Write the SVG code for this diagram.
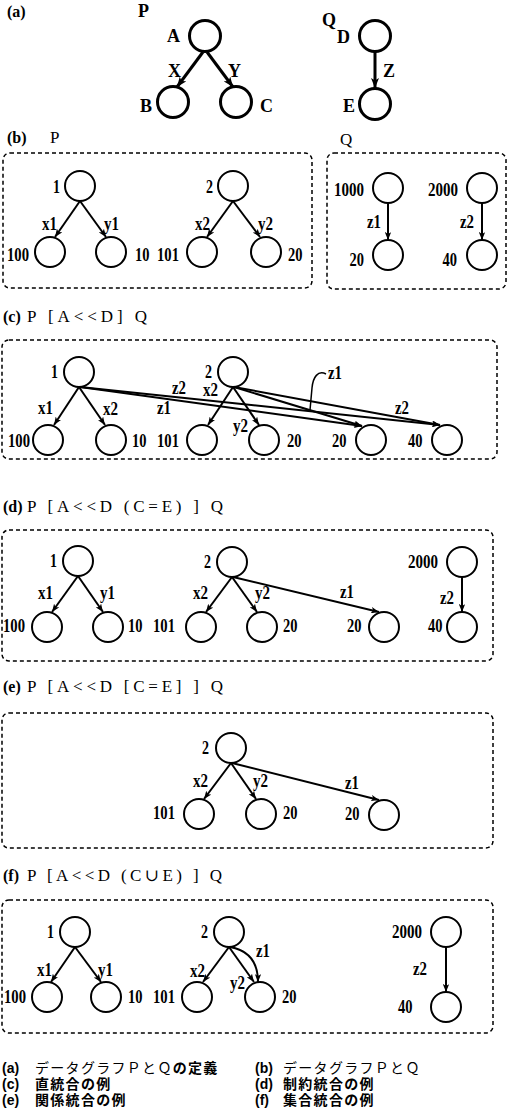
<svg xmlns="http://www.w3.org/2000/svg" width="508" height="1114" viewBox="0 0 508 1114">
<style>
.n{fill:none;stroke:#000;stroke-width:2}
.nb{fill:none;stroke:#000;stroke-width:3}
.e{fill:none;stroke:#000;stroke-width:2;marker-end:url(#ah)}
.eb{fill:none;stroke:#000;stroke-width:3;marker-end:url(#ahb)}
.co{fill:none;stroke:#000;stroke-width:1.5}
.box{fill:none;stroke:#000;stroke-width:1.5;stroke-dasharray:4 3}
.t{font-family:"Liberation Serif","DejaVu Serif",serif;font-size:18px;font-weight:bold;fill:#000}
.r{text-anchor:end}
.big{font-family:"Liberation Serif","DejaVu Serif",serif;font-size:18px;font-weight:bold;fill:#000}
.hd{font-family:"Liberation Serif","DejaVu Serif",serif;font-size:16px;font-weight:bold;fill:#000}
.ti{font-family:"Liberation Serif","DejaVu Serif",serif;font-size:17px;fill:#000}
.cap{font-family:"Liberation Sans","Noto Sans CJK JP",sans-serif;font-size:14px;fill:#000;letter-spacing:1.3px}
.cb{font-weight:bold}
.cl{font-family:"Liberation Sans",sans-serif;font-size:14px;font-weight:bold;letter-spacing:0}
</style>
<defs>
<marker id="ah" viewBox="0 0 10 8" refX="10" refY="4" markerWidth="8" markerHeight="6.4" markerUnits="userSpaceOnUse" orient="auto"><path d="M0,0 L10,4 L0,8 L2.5,4 z" fill="#000"/></marker>
<marker id="ahb" viewBox="0 0 10 8" refX="10" refY="4" markerWidth="10" markerHeight="8" markerUnits="userSpaceOnUse" orient="auto"><path d="M0,0 L10,4 L0,8 L2.5,4 z" fill="#000"/></marker>
</defs>

<!-- titles -->
<g id="titles">
<text class="hd" x="7" y="17">(a)</text>
<text class="big" x="138" y="17">P</text>
<text class="big" x="322" y="26">Q</text>
<text class="hd" x="7" y="143">(b)</text>
<text class="ti" x="50" y="143">P</text>
<text class="ti" x="340" y="145">Q</text>
<text class="hd" x="3" y="322">(c)</text>
<text class="ti" x="27" y="322" textLength="120" lengthAdjust="spacing">P [A&lt;&lt;D] Q</text>
<text class="hd" x="3" y="512">(d)</text>
<text class="ti" x="27" y="512" textLength="196" lengthAdjust="spacing">P [A&lt;&lt;D (C=E) ] Q</text>
<text class="hd" x="3" y="692">(e)</text>
<text class="ti" x="27" y="692" textLength="196" lengthAdjust="spacing">P [A&lt;&lt;D [C=E] ] Q</text>
<text class="hd" x="3" y="881">(f)</text>
<text class="ti" x="27" y="881" textLength="195" lengthAdjust="spacing">P [A&lt;&lt;D (C∪E) ] Q</text>
</g>

<!-- boxes -->
<g id="boxes">
<rect class="box" x="3" y="153" width="309" height="135" rx="7"/>
<rect class="box" x="327" y="153" width="179" height="136" rx="7"/>
<rect class="box" x="2" y="340" width="495" height="119" rx="7"/>
<rect class="box" x="2" y="530" width="491" height="131" rx="7"/>
<rect class="box" x="2" y="713" width="491" height="135" rx="7"/>
<rect class="box" x="2" y="900" width="491" height="133" rx="7"/>
</g>

<!-- (a) nodes -->
<g id="a-A"><circle class="nb" cx="205" cy="36" r="15.5"/><text class="big" x="167" y="42">A</text></g>
<g id="a-B"><circle class="nb" cx="173" cy="102" r="15.5"/><text class="big" x="140" y="112">B</text></g>
<g id="a-C"><circle class="nb" cx="236" cy="102" r="15.5"/><text class="big" x="260" y="112">C</text></g>
<g id="a-D"><circle class="nb" cx="375" cy="36" r="15.5"/><text class="big" x="337" y="43">D</text></g>
<g id="a-E"><circle class="nb" cx="375" cy="104" r="15.5"/><text class="big" x="343" y="112">E</text></g>

<!-- (b) nodes -->
<g id="b-1"><circle class="n" cx="80" cy="186" r="15"/><text class="t r" x="60" y="193" textLength="7" lengthAdjust="spacingAndGlyphs">1</text></g>
<g id="b-100"><circle class="n" cx="50" cy="252" r="15"/><text class="t r" x="29" y="261" textLength="22" lengthAdjust="spacingAndGlyphs">100</text></g>
<g id="b-10"><circle class="n" cx="111" cy="252" r="15"/><text class="t" x="135" y="261" textLength="14.5" lengthAdjust="spacingAndGlyphs">10</text></g>
<g id="b-2"><circle class="n" cx="233" cy="186" r="15"/><text class="t r" x="213" y="193" textLength="7" lengthAdjust="spacingAndGlyphs">2</text></g>
<g id="b-101"><circle class="n" cx="202" cy="252" r="15"/><text class="t" x="157" y="261" textLength="22" lengthAdjust="spacingAndGlyphs">101</text></g>
<g id="b-20"><circle class="n" cx="266" cy="252" r="15"/><text class="t" x="288" y="261" textLength="14.5" lengthAdjust="spacingAndGlyphs">20</text></g>
<g id="b-1000"><circle class="n" cx="388" cy="188" r="15"/><text class="t r" x="364" y="196" textLength="30" lengthAdjust="spacingAndGlyphs">1000</text></g>
<g id="b-q20"><circle class="n" cx="388" cy="255" r="15"/><text class="t r" x="364" y="266" textLength="14.5" lengthAdjust="spacingAndGlyphs">20</text></g>
<g id="b-2000"><circle class="n" cx="482" cy="188" r="15"/><text class="t r" x="458" y="196" textLength="30" lengthAdjust="spacingAndGlyphs">2000</text></g>
<g id="b-40"><circle class="n" cx="482" cy="255" r="15"/><text class="t r" x="457" y="266" textLength="14.5" lengthAdjust="spacingAndGlyphs">40</text></g>

<!-- (c) nodes -->
<g id="c-1"><circle class="n" cx="79" cy="372" r="15"/><text class="t r" x="58" y="378" textLength="7" lengthAdjust="spacingAndGlyphs">1</text></g>
<g id="c-100"><circle class="n" cx="48" cy="440" r="15"/><text class="t r" x="30" y="447" textLength="22" lengthAdjust="spacingAndGlyphs">100</text></g>
<g id="c-10"><circle class="n" cx="111" cy="440" r="15"/><text class="t" x="132" y="447" textLength="14.5" lengthAdjust="spacingAndGlyphs">10</text></g>
<g id="c-2"><circle class="n" cx="233" cy="372" r="15"/><text class="t r" x="212" y="378" textLength="7" lengthAdjust="spacingAndGlyphs">2</text></g>
<g id="c-101"><circle class="n" cx="202" cy="440" r="15"/><text class="t" x="157" y="447" textLength="22" lengthAdjust="spacingAndGlyphs">101</text></g>
<g id="c-20"><circle class="n" cx="264" cy="440" r="15"/><text class="t" x="287" y="447" textLength="14.5" lengthAdjust="spacingAndGlyphs">20</text></g>
<g id="c-q20"><circle class="n" cx="371" cy="440" r="15"/><text class="t" x="332" y="447" textLength="14.5" lengthAdjust="spacingAndGlyphs">20</text></g>
<g id="c-40"><circle class="n" cx="447" cy="440" r="15"/><text class="t" x="408" y="447" textLength="14.5" lengthAdjust="spacingAndGlyphs">40</text></g>

<!-- (d) nodes -->
<g id="d-1"><circle class="n" cx="78" cy="561" r="15"/><text class="t r" x="57" y="567" textLength="7" lengthAdjust="spacingAndGlyphs">1</text></g>
<g id="d-100"><circle class="n" cx="47" cy="627" r="15"/><text class="t r" x="25" y="632" textLength="22" lengthAdjust="spacingAndGlyphs">100</text></g>
<g id="d-10"><circle class="n" cx="108" cy="627" r="15"/><text class="t" x="128" y="632" textLength="14.5" lengthAdjust="spacingAndGlyphs">10</text></g>
<g id="d-2"><circle class="n" cx="232" cy="562" r="15"/><text class="t r" x="211" y="568" textLength="7" lengthAdjust="spacingAndGlyphs">2</text></g>
<g id="d-101"><circle class="n" cx="201" cy="627" r="15"/><text class="t" x="153" y="632" textLength="22" lengthAdjust="spacingAndGlyphs">101</text></g>
<g id="d-20"><circle class="n" cx="262" cy="627" r="15"/><text class="t" x="283" y="632" textLength="14.5" lengthAdjust="spacingAndGlyphs">20</text></g>
<g id="d-q20"><circle class="n" cx="384" cy="627" r="15"/><text class="t" x="347" y="632" textLength="14.5" lengthAdjust="spacingAndGlyphs">20</text></g>
<g id="d-2000"><circle class="n" cx="462" cy="562" r="15"/><text class="t" x="408" y="568" textLength="30" lengthAdjust="spacingAndGlyphs">2000</text></g>
<g id="d-40"><circle class="n" cx="462" cy="627" r="15"/><text class="t" x="428" y="632" textLength="14.5" lengthAdjust="spacingAndGlyphs">40</text></g>

<!-- (e) nodes -->
<g id="e-2"><circle class="n" cx="231" cy="748" r="15"/><text class="t r" x="209" y="754" textLength="7" lengthAdjust="spacingAndGlyphs">2</text></g>
<g id="e-101"><circle class="n" cx="199" cy="814" r="15"/><text class="t" x="153" y="819" textLength="22" lengthAdjust="spacingAndGlyphs">101</text></g>
<g id="e-20"><circle class="n" cx="261" cy="814" r="15"/><text class="t" x="283" y="819" textLength="14.5" lengthAdjust="spacingAndGlyphs">20</text></g>
<g id="e-q20"><circle class="n" cx="384" cy="815" r="15"/><text class="t" x="345" y="820" textLength="14.5" lengthAdjust="spacingAndGlyphs">20</text></g>

<!-- (f) nodes -->
<g id="f-1"><circle class="n" cx="75" cy="932" r="15"/><text class="t r" x="54" y="938" textLength="7" lengthAdjust="spacingAndGlyphs">1</text></g>
<g id="f-100"><circle class="n" cx="47" cy="997" r="15"/><text class="t r" x="26" y="1003" textLength="22" lengthAdjust="spacingAndGlyphs">100</text></g>
<g id="f-10"><circle class="n" cx="106" cy="997" r="15"/><text class="t" x="128" y="1003" textLength="14.5" lengthAdjust="spacingAndGlyphs">10</text></g>
<g id="f-2"><circle class="n" cx="229" cy="932" r="15"/><text class="t r" x="208" y="938" textLength="7" lengthAdjust="spacingAndGlyphs">2</text></g>
<g id="f-101"><circle class="n" cx="197" cy="997" r="15"/><text class="t" x="153" y="1003" textLength="22" lengthAdjust="spacingAndGlyphs">101</text></g>
<g id="f-20"><circle class="n" cx="260" cy="997" r="15"/><text class="t" x="282" y="1003" textLength="14.5" lengthAdjust="spacingAndGlyphs">20</text></g>
<g id="f-2000"><circle class="n" cx="446" cy="932" r="15"/><text class="t r" x="422" y="938" textLength="30" lengthAdjust="spacingAndGlyphs">2000</text></g>
<g id="f-40"><circle class="n" cx="446" cy="1007" r="15"/><text class="t" x="398" y="1013" textLength="14.5" lengthAdjust="spacingAndGlyphs">40</text></g>

<!-- connectors -->
<g id="connectors">
<path class="eb" d="M203,52 L177,87"/>
<path class="eb" d="M207,52 L233,87"/>
<path class="eb" d="M375,52 L375,88"/>
<text class="big" x="168" y="77">X</text>
<text class="big" x="228" y="77">Y</text>
<text class="big" x="383" y="77">Z</text>

<path class="e" d="M80,201 L55,237"/>
<path class="e" d="M80,201 L106,237"/>
<path class="e" d="M233,201 L207,237"/>
<path class="e" d="M233,201 L260,237"/>
<path class="e" d="M388,203 L388,240"/>
<path class="e" d="M482,203 L482,240"/>
<text class="t" x="42" y="230" textLength="15" lengthAdjust="spacingAndGlyphs">x1</text>
<text class="t" x="104" y="230" textLength="15" lengthAdjust="spacingAndGlyphs">y1</text>
<text class="t" x="195" y="230" textLength="15" lengthAdjust="spacingAndGlyphs">x2</text>
<text class="t" x="258" y="230" textLength="15" lengthAdjust="spacingAndGlyphs">y2</text>
<text class="t" x="367" y="228" textLength="14" lengthAdjust="spacingAndGlyphs">z1</text>
<text class="t" x="460" y="228" textLength="14" lengthAdjust="spacingAndGlyphs">z2</text>

<path class="e" d="M79,387 L54,425"/>
<path class="e" d="M79,387 L105,425"/>
<path class="e" d="M233,387 L208,425"/>
<path class="e" d="M233,387 L259,425"/>
<path class="e" d="M80,387 L362,426"/>
<path class="e" d="M80,387 L440,425"/>
<path class="e" d="M234,387 L362,426"/>
<path class="e" d="M234,387 L440,425"/>
<path class="co" d="M326,374 C318,370 313,377 312,388 L310,410"/>
<text class="t" x="38" y="414" textLength="15" lengthAdjust="spacingAndGlyphs">x1</text>
<text class="t" x="103" y="415" textLength="15" lengthAdjust="spacingAndGlyphs">x2</text>
<text class="t" x="172" y="394" textLength="14" lengthAdjust="spacingAndGlyphs">z2</text>
<text class="t" x="157" y="414" textLength="14" lengthAdjust="spacingAndGlyphs">z1</text>
<text class="t" x="203" y="396" textLength="15" lengthAdjust="spacingAndGlyphs">x2</text>
<text class="t" x="233" y="432" textLength="15" lengthAdjust="spacingAndGlyphs">y2</text>
<text class="t" x="328" y="379" textLength="14" lengthAdjust="spacingAndGlyphs">z1</text>
<text class="t" x="395" y="414" textLength="14" lengthAdjust="spacingAndGlyphs">z2</text>

<path class="e" d="M78,576 L52,612"/>
<path class="e" d="M78,576 L103,612"/>
<path class="e" d="M232,577 L206,612"/>
<path class="e" d="M232,577 L257,612"/>
<path class="e" d="M233,577 L379,612"/>
<path class="e" d="M462,577 L462,612"/>
<text class="t" x="38" y="599" textLength="15" lengthAdjust="spacingAndGlyphs">x1</text>
<text class="t" x="100" y="599" textLength="15" lengthAdjust="spacingAndGlyphs">y1</text>
<text class="t" x="193" y="599" textLength="15" lengthAdjust="spacingAndGlyphs">x2</text>
<text class="t" x="255" y="599" textLength="15" lengthAdjust="spacingAndGlyphs">y2</text>
<text class="t" x="340" y="598" textLength="14" lengthAdjust="spacingAndGlyphs">z1</text>
<text class="t" x="440" y="604" textLength="14" lengthAdjust="spacingAndGlyphs">z2</text>

<path class="e" d="M231,763 L204,799"/>
<path class="e" d="M231,763 L256,799"/>
<path class="e" d="M232,763 L379,800"/>
<text class="t" x="193" y="787" textLength="15" lengthAdjust="spacingAndGlyphs">x2</text>
<text class="t" x="253" y="787" textLength="15" lengthAdjust="spacingAndGlyphs">y2</text>
<text class="t" x="345" y="789" textLength="14" lengthAdjust="spacingAndGlyphs">z1</text>

<path class="e" d="M75,947 L51,982"/>
<path class="e" d="M75,947 L101,982"/>
<path class="e" d="M229,947 L203,982"/>
<path class="e" d="M229,947 L254,982"/>
<path class="e" d="M230,947 Q258,952 258,982"/>
<path class="e" d="M446,947 L446,992"/>
<text class="t" x="37" y="976" textLength="15" lengthAdjust="spacingAndGlyphs">x1</text>
<text class="t" x="98" y="976" textLength="15" lengthAdjust="spacingAndGlyphs">y1</text>
<text class="t" x="190" y="977" textLength="15" lengthAdjust="spacingAndGlyphs">x2</text>
<text class="t" x="230" y="989" textLength="15" lengthAdjust="spacingAndGlyphs">y2</text>
<text class="t" x="256" y="957" textLength="14" lengthAdjust="spacingAndGlyphs">z1</text>
<text class="t" x="413" y="975" textLength="14" lengthAdjust="spacingAndGlyphs">z2</text>
</g>

<!-- caption -->
<g id="caption">
<text class="cap" x="2" y="1073"><tspan class="cl">(a)</tspan><tspan x="35">データグラフＰとＱ</tspan><tspan class="cb">の定義</tspan></text>
<text class="cap" x="2" y="1089"><tspan class="cl">(c)</tspan><tspan x="35" class="cb">直統合の例</tspan></text>
<text class="cap" x="2" y="1105"><tspan class="cl">(e)</tspan><tspan x="35" class="cb">関係統合の例</tspan></text>
<text class="cap" x="255" y="1073"><tspan class="cl">(b)</tspan><tspan x="283">データグラフＰとＱ</tspan></text>
<text class="cap" x="255" y="1089"><tspan class="cl">(d)</tspan><tspan x="283" class="cb">制約統合の例</tspan></text>
<text class="cap" x="255" y="1105"><tspan class="cl">(f)</tspan><tspan x="283" class="cb">集合統合の例</tspan></text>
</g>
</svg>
